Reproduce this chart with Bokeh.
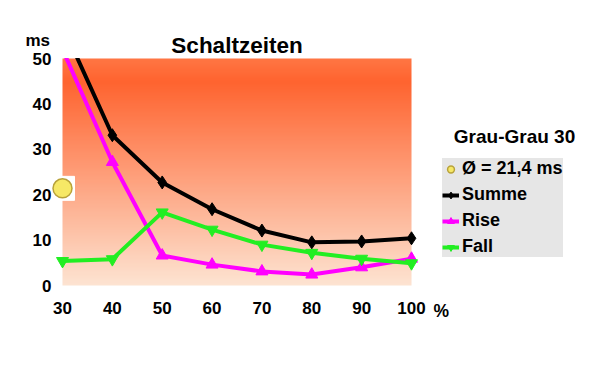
import numpy as np
from bokeh.plotting import figure
from bokeh.models import (Range1d, FixedTicker, Legend, LegendItem, Label,
                          LinearAxis)
from bokeh.embed import file_html
from bokeh.resources import INLINE

# ---- data ----
x_pct = [30, 40, 50, 60, 70, 80, 90, 100]
summe = [57.3, 33.1, 22.7, 16.8, 12.1, 9.5, 9.7, 10.4]
rise = [52.0, 27.2, 6.6, 4.6, 3.1, 2.4, 4.0, 5.9]
fall = [5.4, 5.8, 16.1, 12.3, 9.0, 7.2, 5.9, 4.9]
avg_x = [30]
avg_y = [21.4]
x_ticks = [30, 40, 50, 60, 70, 80, 90, 100]
y_ticks = [0, 10, 20, 30, 40, 50]

FONT = "Liberation Sans"

# ---- layout geometry (pixels) ----
W, H = 584, 354
PL, PR, PT, PB = 62, 411, 58, 285      # plot area edges on the canvas
xs = (PR - PL) / (x_ticks[-1] - x_ticks[0])
ys = (PB - PT) / (y_ticks[-1] - y_ticks[0])
x0 = x_ticks[0] - PL / xs
x1 = x_ticks[0] + (W - PL) / xs
y0 = y_ticks[0] - (H - PB) / ys
y1 = y_ticks[0] + PB / ys

p = figure(width=W, height=H, output_backend="svg", toolbar_location=None,
           x_range=Range1d(x0, x1), y_range=Range1d(y0, y1),
           x_axis_type=None, y_axis_type=None,
           min_border_left=0, min_border_right=0, min_border_top=0,
           min_border_bottom=0)
p.outline_line_color = None
p.background_fill_color = "white"
p.border_fill_color = "white"

# gradient background across the plot area
ny = 200
t = np.linspace(0, 1, ny)[:, None]          # 0 bottom -> 1 top
c_bot = np.array([253, 228, 210])
c_mid = np.array([255, 100, 48])
c_top = np.array([255, 118, 68])
tk = 0.9
cols = np.where(t < tk, c_bot + (c_mid - c_bot) * (t / tk),
                c_mid + (c_top - c_mid) * ((t - tk) / (1 - tk)))
img = np.empty((ny, 2), dtype=np.uint32)
view = img.view(dtype=np.uint8).reshape((ny, 2, 4))
for k in range(3):
    view[:, :, k] = cols[:, k:k + 1].astype(np.uint8)
view[:, :, 3] = 255
p.image_rgba(image=[img], x=x_ticks[0], y=y_ticks[0],
             dw=x_ticks[-1] - x_ticks[0], dh=y_ticks[-1] - y_ticks[0],
             level="image")

# axes at fixed locations
xaxis = LinearAxis(fixed_location=y_ticks[0], ticker=FixedTicker(ticks=x_ticks))
yaxis = LinearAxis(fixed_location=x_ticks[0], ticker=FixedTicker(ticks=y_ticks))
for ax in (xaxis, yaxis):
    ax.axis_line_color = None
    ax.major_tick_line_color = None
    ax.minor_tick_line_color = None
    ax.major_tick_out = 0
    ax.major_tick_in = 0
    ax.minor_tick_out = 0
    ax.major_label_text_font = FONT
    ax.major_label_text_font_style = "bold"
    ax.major_label_text_font_size = "17px"
    ax.major_label_text_color = "black"
xaxis.major_label_standoff = 16
yaxis.major_label_standoff = 11
p.add_layout(xaxis, "below")
p.add_layout(yaxis, "left")

# grid only over the plot area
p.xgrid.grid_line_color = None
p.ygrid.ticker = FixedTicker(ticks=y_ticks)
p.ygrid.bounds = (x_ticks[0], x_ticks[-1])
p.ygrid.grid_line_color = "#5a5a5a"
p.ygrid.grid_line_width = 1

# series
r_sum_l = p.line(x_pct, summe, line_color="black", line_width=4)
r_sum_m = p.scatter(x_pct, summe, marker="diamond", size=13, color="black")
r_rise_l = p.line(x_pct, rise, line_color="#ff00ff", line_width=4)
r_rise_m = p.scatter(x_pct, rise, marker="triangle", size=12, color="#ff00ff")
r_fall_l = p.line(x_pct, fall, line_color="#22ee22", line_width=4)
r_fall_m = p.scatter(x_pct, fall, marker="inverted_triangle", size=12, color="#22ee22")

# clip the series at the top of the plot area
p.quad(left=x0, right=x1, bottom=y_ticks[-1] + 0.5 / ys, top=y1,
       fill_color="white", line_color=None)

# average marker
p.scatter(avg_x, avg_y, marker="square", size=24, color="white")
r_avg = p.scatter(avg_x, avg_y, marker="circle", size=19,
                  fill_color="#f6e866", line_color="#b8a23a", line_width=1.5)

legend = Legend(items=[
    LegendItem(label="Ø = 21,4 ms", renderers=[r_avg]),
    LegendItem(label="Summe", renderers=[r_sum_l, r_sum_m]),
    LegendItem(label="Rise", renderers=[r_rise_l, r_rise_m]),
    LegendItem(label="Fall", renderers=[r_fall_l, r_fall_m]),
], location=(442, H - 257))
legend.background_fill_color = "#e6e6e6"
legend.background_fill_alpha = 1
legend.border_line_color = None
legend.label_text_font = FONT
legend.label_text_font_style = "bold"
legend.label_text_font_size = "18px"
legend.label_text_color = "black"
legend.padding = 4
legend.margin = 0
legend.spacing = 5
legend.label_height = 20
legend.glyph_height = 20
legend.glyph_width = 17
legend.label_standoff = 3
p.add_layout(legend, "center")

def lab(text, px, py, size, align="left"):
    # py: wanted baseline on the canvas (compensating the renderer's offset)
    p.add_layout(Label(text=text, x=px, y=H - py + 5.5, x_units="screen", y_units="screen",
                       text_font=FONT, text_font_style="bold",
                       text_font_size=size, text_align=align,
                       text_baseline="alphabetic", text_color="black"))

lab("Schaltzeiten", (PL + PR) / 2, 50.2, "22.5px", align="center")
lab("ms", 25, 45.7, "17px")
lab("%", 433, 316, "17.5px")
lab("Grau-Grau 30", 514, 141, "19px", align="center")

open("out.html", "w").write(file_html(p, INLINE))
